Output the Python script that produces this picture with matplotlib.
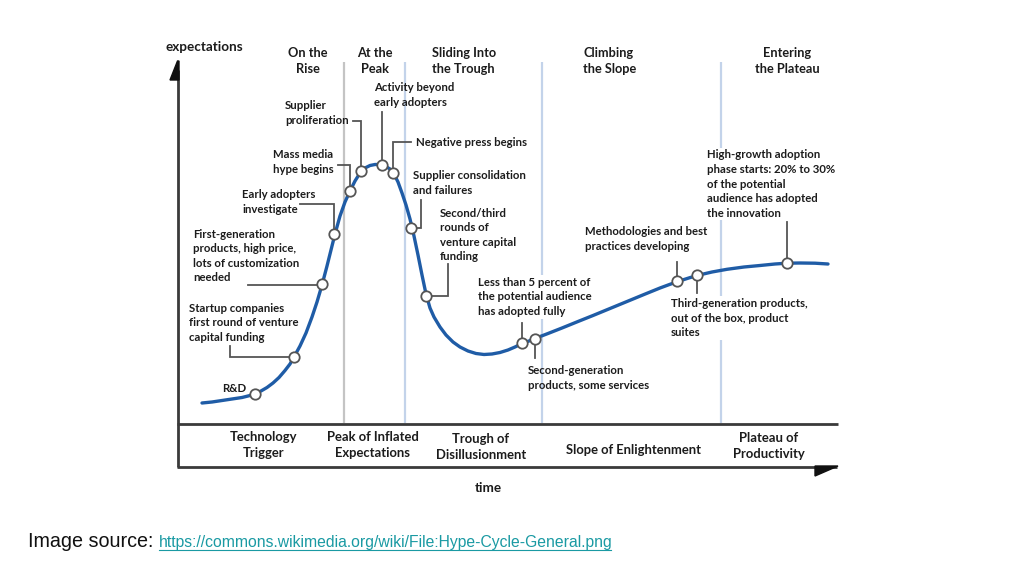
import matplotlib
matplotlib.use("Agg")
import matplotlib.pyplot as plt
from matplotlib.patches import Polygon
from matplotlib.lines import Line2D

# ---------------- data (pixel-like units) ----------------
curve_time = [202, 212, 222, 232, 242, 250, 255, 261, 267, 273, 279, 285, 290, 294,
              300, 306, 312, 317, 322, 327, 331, 335, 340, 345, 350, 355, 360, 365,
              370, 375, 380, 385, 390, 394, 398, 402, 406, 410, 414, 418, 422, 426,
              430, 434, 440, 446, 453, 460, 468, 476, 484, 492, 500, 508, 515, 522,
              529, 535, 548, 562, 578, 593, 610, 627, 644, 660, 670, 680, 690, 700,
              712, 727, 744, 760, 775, 787, 800, 815, 828]
curve_expect = [403, 402, 400.5, 399, 397.5, 395.5, 394, 391, 387.5, 383, 377.5, 370.5,
                364, 357, 346, 333, 317, 302, 285, 266, 250, 234, 216, 202, 191, 181,
                173, 168, 165.5, 164.5, 164.5, 166, 169, 174, 182, 193, 205, 219, 236,
                255, 275, 294, 308, 317, 327, 335, 342, 347, 351, 353.5, 354.5, 354,
                352.5, 350, 347, 343.5, 341, 338.5, 333.5, 328, 321.5, 315.5, 308.5,
                301.5, 294.5, 288, 284.3, 280.8, 277.6, 274.8, 272, 269.3, 267, 265.5,
                264, 263.2, 263, 263.2, 264]

marker_time = [255, 294, 322, 334, 350, 361, 382, 393, 411, 426, 522, 535, 677, 697, 787]
marker_expect = [394, 357, 284, 234, 191, 171, 165, 173, 228, 296, 343, 339, 281, 275, 263]

marker_labels = [
    "R&D",
    "Startup companies\nfirst round of venture\ncapital funding",
    "First-generation\nproducts, high price,\nlots of customization\nneeded",
    "Early adopters\ninvestigate",
    "Mass media\nhype begins",
    "Supplier\nproliferation",
    "Activity beyond\nearly adopters",
    "Negative press begins",
    "Supplier consolidation\nand failures",
    "Second/third\nrounds of\nventure capital\nfunding",
    "Less than 5 percent of\nthe potential audience\nhas adopted fully",
    "Second-generation\nproducts, some services",
    "Methodologies and best\npractices developing",
    "Third-generation products,\nout of the box, product\nsuites",
    "High-growth adoption\nphase starts: 20% to 30%\nof the potential\naudience has adopted\nthe innovation",
]

top_headers = ["On the\nRise", "At the\nPeak", "Sliding Into\nthe Trough",
               "Climbing\nthe Slope", "Entering\nthe Plateau"]
phase_names = ["Technology\nTrigger", "Peak of Inflated\nExpectations",
               "Trough of\nDisillusionment", "Slope of Enlightenment",
               "Plateau of\nProductivity"]
phase_bounds = [344, 405, 542, 721]
y_axis_label = "expectations"
x_axis_label = "time"
source_prefix = "Image source: "
source_url = "https://commons.wikimedia.org/wiki/File:Hype-Cycle-General.png"

# ---------------- layout ----------------
FONT = "Lato"
TXT = "#1c1c1c"
label_pos = [
    (222, 388), (189, 323), (193, 256), (242, 202),
    (273, 162), (285, 113), (374, 95), (416, 142),
    (413, 183), (440, 235), (478, 297), (528, 378),
    (585, 239), (671, 318), (707, 184),
]
leaders = [
    None,
    [(230, 346), (230, 357), (294, 357)],
    [(248, 285), (322, 285)],
    [(300, 204), (334, 204), (334, 234)],
    [(338, 165), (350, 165), (350, 191)],
    [(353, 121), (361, 121), (361, 171)],
    [(382, 112), (382, 165)],
    [(411, 142), (393, 142), (393, 173)],
    [(421, 200), (421, 228), (411, 228)],
    [(448, 264), (448, 296), (426, 296)],
    [(522, 323), (522, 343)],
    [(535, 339), (535, 358)],
    [(677, 262), (677, 281)],
    [(697, 275), (697, 293)],
    [(787, 222), (787, 263)],
]
header_pos = [(308, 61, "center"), (375, 61, "center"), (432, 61, "left"),
              (583, 61, "left"), (787, 61, "center")]
phase_pos = [(264, 445), (373, 445), (481, 447), (633, 450), (769, 446)]
boxed = {10, 13, 14}

fig = plt.figure(figsize=(10.24, 5.76), dpi=100)
ax = fig.add_axes([0, 0, 1, 1])
ax.set_xlim(0, 1024)
ax.set_ylim(576, 0)
ax.axis("off")

# phase divider lines
div_colors = ["#c4c4c4", "#c3d3ea", "#c3d3ea", "#c3d3ea"]
for xb, c in zip(phase_bounds, div_colors):
    ax.plot([xb, xb], [62, 423], color=c, lw=1.6, zorder=1, solid_capstyle="butt")

# axes frame
AX = "#3a3a3a"
ax.plot([178, 178], [70, 467], color=AX, lw=2.0, zorder=3, solid_capstyle="butt")
ax.add_patch(Polygon([(170, 80), (177.5, 61), (179, 61), (179, 80)], closed=True,
                     color="#111111", zorder=4))
ax.plot([177, 838], [424, 424], color=AX, lw=2.0, zorder=3, solid_capstyle="butt")
ax.plot([177, 837], [467, 467], color=AX, lw=2.0, zorder=3, solid_capstyle="butt")
ax.add_patch(Polygon([(815, 466), (838, 466), (815, 476)], closed=True,
                     color="#111111", zorder=4))

# curve
ax.plot(curve_time, curve_expect, color="#1f5ca6", lw=2.4, zorder=5,
        solid_joinstyle="round", solid_capstyle="round", antialiased=True)

# leaders
for path in leaders:
    if path is None:
        continue
    xs, ys = zip(*path)
    ax.plot(xs, ys, color="#555555", lw=1.3, zorder=4, solid_joinstyle="miter")

# markers
ax.plot(marker_time, marker_expect, "o", ms=7.5, mfc="white", mec="#555555",
        mew=1.3, zorder=6, linestyle="none")

# marker labels (boxed ones sit above the divider lines but below the curve)
for i, (lab, (x, y)) in enumerate(zip(marker_labels, label_pos)):
    kw = {}
    z = 7
    if i in boxed:
        kw["bbox"] = dict(boxstyle="square,pad=0.15", fc="white", ec="none")
        z = 2
    ax.text(x, y, lab, ha="left", va="center",
            fontsize=8.2, fontweight="bold", family=FONT, color=TXT,
            linespacing=1.39, zorder=z, **kw)

# headers
for lab, (x, y, ha) in zip(top_headers, header_pos):
    ax.text(x, y, lab, ha=ha, va="center", fontsize=9.2, fontweight="bold",
            family=FONT, color=TXT, linespacing=1.41, multialignment=ha, zorder=7)

# phase names
for lab, (x, y) in zip(phase_names, phase_pos):
    ax.text(x, y, lab, ha="center", va="center", fontsize=9.4, fontweight="bold",
            family=FONT, color=TXT, linespacing=1.43, zorder=7)

ax.text(165, 47, y_axis_label, ha="left", va="center", fontsize=9.7,
        fontweight="bold", family=FONT, color=TXT)
ax.text(488, 488, x_axis_label, ha="center", va="center", fontsize=9.7,
        fontweight="bold", family=FONT, color=TXT)

# source line
t1 = ax.text(28, 547, source_prefix, ha="left", va="baseline", fontsize=14.2,
             family="Liberation Sans", color="#111111")
fig.canvas.draw()
r = fig.canvas.get_renderer()
bb = t1.get_window_extent(r)
W, H = fig.bbox.width, fig.bbox.height
t2 = fig.text(bb.x1 / W, 1 - 547 / 576.0, source_url, ha="left",
              va="baseline", fontsize=11.3, family="Liberation Sans", color="#1a9aa3")
fig.canvas.draw()
bb2 = t2.get_window_extent(r)
fig.add_artist(Line2D([bb2.x0 / W, bb2.x1 / W - 2 / W], [1 - 549.5 / 576.0] * 2,
                      color="#1a9aa3", lw=0.8))

fig.savefig("out.png", dpi=100, facecolor="white")
